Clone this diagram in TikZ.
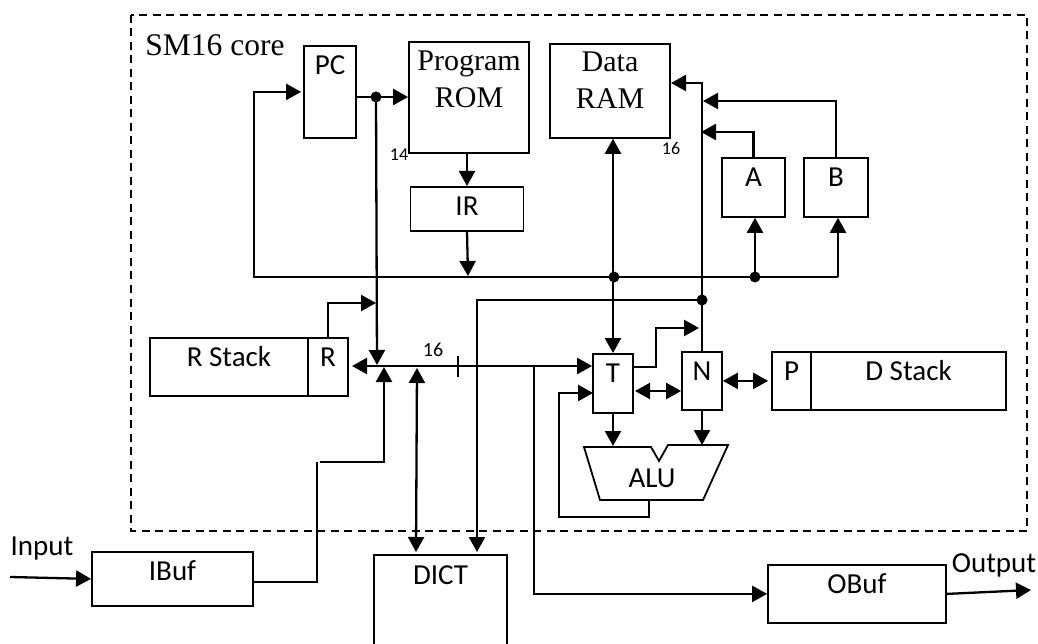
\documentclass[tikz,border=0pt]{standalone}
\usepackage{fontspec}
\setmainfont{Carlito}
\newfontfamily\serifcore{Liberation Serif}
\usetikzlibrary{arrows.meta}

\begin{document}
\begin{tikzpicture}[x=1pt, y=-1pt, >={Triangle[length=15pt,width=16pt]},
    box/.style n args={3}{draw, line width=1.8pt, anchor=north, inner sep=0pt,
        minimum width=#1pt, text height=#2pt, text depth=#3pt, font=\fontsize{29}{32}\selectfont},
    serifbox/.style={font=\serifcore\fontsize{30}{37}\selectfont, align=center},
    wire/.style={line width=2.3pt},
    thinwire/.style={line width=1.5pt},
    lbl/.style={anchor=base, inner sep=0pt, font=\fontsize{29}{32}\selectfont},
    small/.style={anchor=base, inner sep=0pt, font=\fontsize{18}{20}\selectfont}]
    \useasboundingbox (0,0) rectangle (1038,644);

    % Core boundary
    \draw[line width=1.7pt, dash pattern=on 8pt off 5.5pt] (131,15) rectangle (1027,531);
    \node[anchor=base, inner sep=0pt, font=\serifcore\fontsize{31.5}{36}\selectfont] (corelbl) at (215,56) {SM16 core};

    % Memories and registers
    \node[box={52}{29}{63}] (pc) at (330,45) {PC};
    \node[box={120}{66}{45}, serifbox] (rom) at (469,41) {Program\\ROM};
    \node[box={120}{65}{29}, serifbox] (ram) at (610,43) {Data\\RAM};
    \node[box={113}{29}{15}] (ir) at (467,186) {IR};
    \node[box={63}{29}{30}] (a) at (753.5,157) {A};
    \node[box={64}{29}{30}] (b) at (836,157) {B};

    % Stacks
    \node[box={158}{29}{29}] (rstack) at (229,337) {R Stack};
    \node[box={40}{29}{29}] (r) at (328,337) {R};
    \node[box={40}{29}{30}] (t) at (613,353) {T};
    \node[box={40}{29}{29}] (n) at (702,351) {N};
    \node[box={39}{29}{29}] (p) at (791.5,351) {P};
    \node[box={195}{29}{29}] (dstack) at (908.5,351) {D Stack};

    % ALU
    \draw[line width=1.8pt] (584,447) -- (651,447) -- (659,461) -- (668,445) -- (728,445)
        -- (703,500) -- (600,500) -- cycle;
    \node[lbl] (alu) at (652,487) {ALU};

    % Buffers and dictionary
    \node[box={161}{29}{25}] (ibuf) at (172.5,551) {IBuf};
    \node[box={178}{29}{29}] (obuf) at (857,564) {OBuf};
    \node[box={131}{29}{60}, draw=none] (dict) at (440.5,555) {DICT};
    \draw[line width=1.8pt] (dict.south west) -- (dict.north west) -- (dict.north east) -- (dict.south east);

    % Labels
    \node[lbl] (inlbl) at (42,555) {Input};
    \node[lbl] (outlbl) at (994,572) {Output};
    \node[small] (w14) at (399,161) {14};
    \node[small] (w16) at (671,155) {16};
    \node[small, font=\fontsize{20}{22}\selectfont] (bus16) at (433,356) {16};

    % Junctions and free ends
    \coordinate (pcdot) at (376,97);
    \coordinate (rtip) at (376,303);
    \coordinate (pcbus) at (377,365);
    \coordinate (loop) at (254,277);
    \coordinate (irbus) at (468,276);
    \coordinate (ramdot) at (614,277);
    \coordinate (abdot) at (755,277);
    \coordinate (loopend) at (838,277);
    \coordinate (ndot) at (702,300);
    \coordinate (ramin) at (671,83);
    \coordinate (atip) at (701,132);
    \coordinate (btip) at (703,101);
    \coordinate (busleft) at (352,366);
    \coordinate (busdrop) at (534,366);
    \coordinate (tout) at (633,367);
    \coordinate (ttip) at (699,328);
    \coordinate (tnleft) at (635,391);
    \coordinate (tin) at (593,393);
    \coordinate (alutop1) at (613,446);
    \coordinate (alutop2) at (702,445);
    \coordinate (aluout) at (649,500);
    \coordinate (dictin) at (477,552);
    \coordinate (ibout) at (253,582);
    \coordinate (ibup) at (317,462);
    \coordinate (ibup2) at (320,462);
    \coordinate (ibtip) at (384,367);
    \coordinate (inend) at (10,577);
    \coordinate (outend) at (1031,590);

    % Program counter and control loop
    \draw[wire, ->] (pc.east |- pcdot) -- (rom.west |- pcdot);
    \draw[wire, ->] (pcdot) -- (pcbus);
    \draw[wire, ->, shorten >=2pt] (loopend) -- (loop) |- (pc.west);
    \draw[wire, ->] (ir.north |- rom.south) -- (ir.north);
    \draw[wire, ->] (ir.south) -- (irbus);
    \draw[wire, ->] (r.north) |- (rtip);

    % Data RAM and address registers
    \draw[wire, <->] (t.north |- ram.south) -- (t.north);
    \draw[wire, ->] (n.north) |- (ramin);
    \draw[wire, ->] (a.north) |- (atip);
    \draw[wire, ->] (b.north) |- (btip);
    \draw[wire, ->] (abdot) -- (abdot |- a.south);
    \draw[wire, ->] (loopend) -- (loopend |- b.south);

    % Main bus
    \draw[wire, <->] (busleft) -- (t.west |- busleft);
    \draw[wire] (458,356) -- (458,377);
    \draw[wire, ->] (busdrop) |- (obuf.west);
    \draw[wire, <->] (417,368) -- (416,552);
    \draw[wire, ->] (ndot) -| (dictin);

    % T, N and ALU
    \draw[wire, ->] (tout) -- (656,367) |- (ttip);
    \draw[wire, <->] (tnleft) -- (n.west |- tnleft);
    \draw[wire, <->, shorten >=3pt] (n.east) -- (p.west);
    \draw[wire, ->] (t.south) -- (alutop1);
    \draw[wire, ->] (n.south) -- (alutop2);
    \draw[wire, ->] (aluout) -- (649,517) -- (559,517) |- (tin);

    % Input and output
    \draw[wire, ->] (inend) -- (ibuf.west);
    \draw[thinwire] (ibout) -| (ibup);
    \draw[wire, ->] (ibup2) -| (ibtip);
    \draw[wire, ->] (obuf.east) -- (outend);

    % Dots
    \foreach \d in {pcdot, ramdot, abdot, ndot}
        \fill (\d) circle (5.5pt);
\end{tikzpicture}
\end{document}
